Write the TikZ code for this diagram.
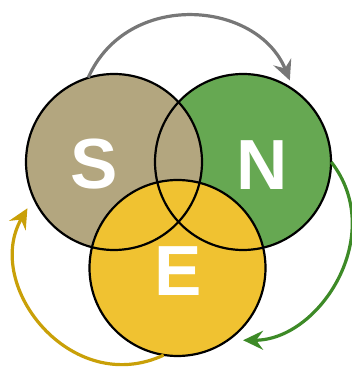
\documentclass[tikz,border=0pt]{standalone}
\usepackage{fontspec}
\setmainfont{Liberation Sans}
\usetikzlibrary{arrows.meta}
\definecolor{sand}{HTML}{B3A67F}
\definecolor{leaf}{HTML}{66A852}
\definecolor{sun}{HTML}{F0C231}
\definecolor{greyarrow}{HTML}{777777}
\definecolor{leafarrow}{HTML}{3D8A27}
\definecolor{sunarrow}{HTML}{C9A008}
\tikzset{
  disc/.style={circle,minimum size=176pt,inner sep=0pt},
  ring/.style={line width=2.2pt},
  letter/.style={text=white,font=\fontsize{71}{71}\selectfont\bfseries,inner sep=0pt},
  loopArrow/.style={line width=3.2pt,-{Stealth[length=20pt,width=19pt,inset=7pt]}}
}
\begin{document}
\begin{tikzpicture}[x=1pt,y=1pt]
  \useasboundingbox (0,0) rectangle (352,369);
  \draw
    (243,207) node[disc,fill=leaf] (N){}
    (114,207) node[disc,fill=sand] (S){}
    (177.5,101) node[disc,fill=sun] (E){};
  \foreach \c in {N,S,E}
    \draw[ring] (\c) circle[radius=88];
  \draw
    (94,205) node[letter] (s){S}
    (262,204) node[letter] (n){N}
    (178,98) node[letter] (e){E};
  \begin{scope}[loopArrow]
    \draw[greyarrow,shorten >=10pt] (S.107) to[out=66,in=112,looseness=1.2] (N.55);
    \draw[leafarrow,shorten >=15pt] (N.0) to[out=-52,in=0,looseness=1.14] (E.-55);
    \draw[sunarrow,shorten >=12pt] (E.-99) to[out=205,in=240,looseness=1.27] (S.204);
  \end{scope}
\end{tikzpicture}
\end{document}
